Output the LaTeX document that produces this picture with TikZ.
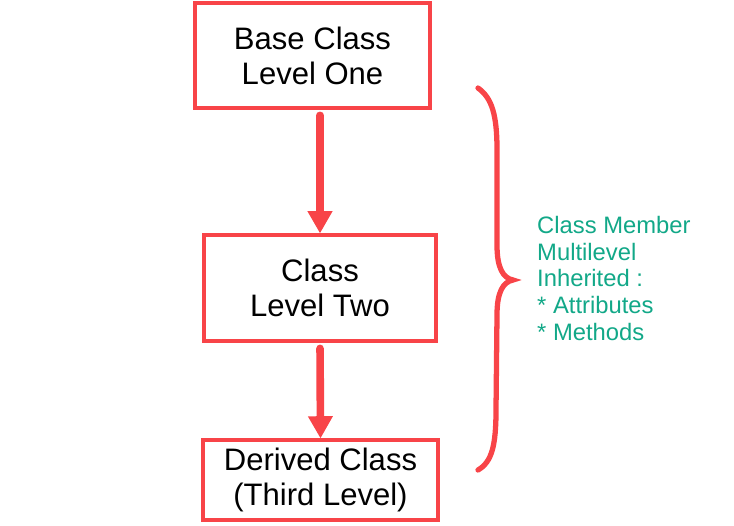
\documentclass[tikz,border=0pt]{standalone}
\usepackage{fontspec}
\setmainfont{Liberation Sans}
\usetikzlibrary{arrows.meta,shadows}
\definecolor{boxred}{RGB}{248,68,72}
\definecolor{notegreen}{RGB}{18,168,136}

\begin{document}
\begin{tikzpicture}[x=0.03cm,y=-0.03cm,
    classbox/.style={draw=boxred, line width=2.6pt, fill=white, align=center,
        font=\fontsize{26.5}{30}\selectfont, inner sep=0pt,
        drop shadow={opacity=0.3, shadow xshift=2pt, shadow yshift=-2pt}},
    inherit/.style={draw=boxred, line width=6.5pt, line cap=round,
        -{Triangle[width=20pt,length=19pt]}, shorten <=5pt}]
    \useasboundingbox (0,0) rectangle (734,525);
    \node[classbox, minimum width=235*0.03cm, minimum height=105*0.03cm]
        (base) at (312.5,55.5) {Base Class\\Level One};
    \node[classbox, minimum width=232*0.03cm, minimum height=106*0.03cm]
        (two) at (320,288) {Class\\Level Two};
    \node[classbox, minimum width=235*0.03cm, minimum height=80*0.03cm]
        (third) at (320.5,480) {Derived Class\\(Third Level)};
    \draw[inherit] (two.north |- base.south) -- (two.north);
    \draw[inherit] (two.south) -- (third.north);
    % brace
    \draw[boxred, line width=4.5pt, line cap=round]
    (478,88) .. controls (492,98) and (497,115) .. (497,150)
    -- (497,245) .. controls (497,268) and (503,278) .. (513,280)
    .. controls (503,282) and (497,292) .. (497,315)
    -- (496,410) .. controls (496,445) and (492,462) .. (478,470);
    \node[anchor=north west, inner sep=0pt, align=left, text=notegreen,
        font=\fontsize{20.3}{22.8}\selectfont]
        (members) at (537,216) {Class Member\\Multilevel\\Inherited :\\* Attributes\\* Methods};
\end{tikzpicture}
\end{document}
